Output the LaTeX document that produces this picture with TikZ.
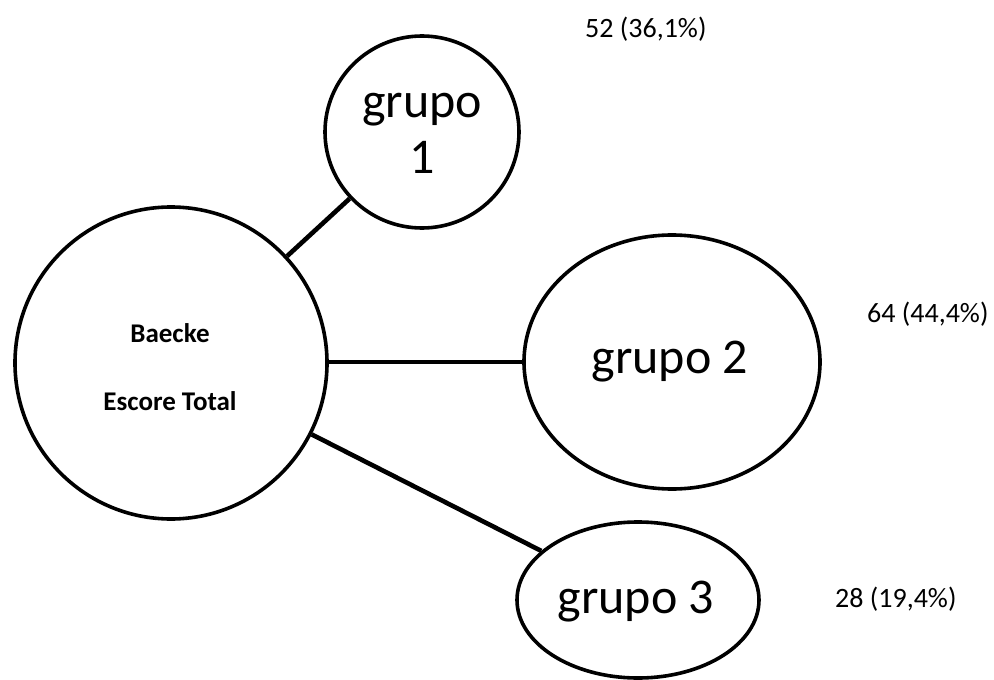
\documentclass[tikz,border=0pt]{standalone}
\usepackage{fontspec}
\setmainfont{Carlito}
\usetikzlibrary{shapes.geometric}
\begin{document}
\begin{tikzpicture}[x=1pt,y=-1pt,
  bubble/.style={draw=black, line width=3.6pt, ellipse, inner sep=0pt, fill=white},
  link/.style={draw=black, line width=4.6pt},
  grp/.style={font=\fontsize{50}{56}\selectfont, anchor=base, inner sep=0pt},
  cnt/.style={font=\fontsize{28}{32}\selectfont, anchor=base west, inner sep=0pt},
  main/.style={font=\fontsize{27}{30}\selectfont\bfseries, anchor=base, inner sep=0pt}]
\useasboundingbox (0,0) rectangle (994,680);
\node[bubble, minimum width=312pt, minimum height=312pt] (big) at (171,363) {};
\node[bubble, minimum width=194pt, minimum height=192pt] (g1) at (422,132) {};
\node[bubble, minimum width=296pt, minimum height=254pt] (g2) at (672,362) {};
\node[bubble, minimum width=242pt, minimum height=156pt] (g3) at (638,600) {};
\draw[link] (big) -- (g1);
\draw[link] (big.east |- g2.west) -- (g2.west);
\draw[link] (big) -- (g3);
\node[main] (t1) at (170,342) {Baecke};
\node[main] (t2) at (170,410) {Escore Total};
\node[grp] (l1a) at (422,117) {grupo};
\node[grp] (l1b) at (422,173) {1};
\node[grp] (l2) at (670,373) {grupo 2};
\node[grp] (l3) at (636,613) {grupo 3};
\node[cnt] (c1) at (585,37) {52 (36,1\%)};
\node[cnt] (c2) at (867,322) {64 (44,4\%)};
\node[cnt] (c3) at (835,607) {28 (19,4\%)};
\end{tikzpicture}
\end{document}
